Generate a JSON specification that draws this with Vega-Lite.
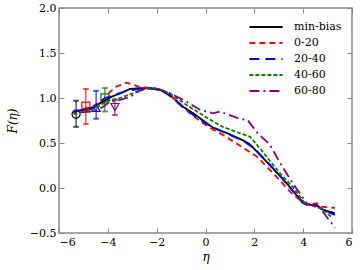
{
  "$schema": "https://vega.github.io/schema/vega-lite/v6.json",
  "width": 293,
  "height": 225,
  "autosize": "none",
  "padding": {"left": 59, "top": 8, "right": 8, "bottom": 37},
  "background": "white",
  "config": {
    "view": {"stroke": "#888888", "strokeWidth": 1.5},
    "font": "DejaVu Serif",
    "axis": {
      "domain": false,
      "grid": false,
      "tickColor": "#888888",
      "tickSize": -5,
      "tickWidth": 1,
      "labelFont": "DejaVu Serif",
      "labelFontSize": 11,
      "labelColor": "black",
      "titleFont": "DejaVu Serif",
      "titleFontSize": 12,
      "titleFontWeight": "normal",
      "titleFontStyle": "italic",
      "titleColor": "black"
    },
    "legend": {
      "labelFont": "DejaVu Serif",
      "labelFontSize": 11,
      "labelColor": "black"
    }
  },
  "datasets": {
    "curves": [
      {"eta": -5.43, "F": 0.84, "series": "min-bias"},
      {"eta": -5.0, "F": 0.87, "series": "min-bias"},
      {"eta": -4.6, "F": 0.9, "series": "min-bias"},
      {"eta": -4.2, "F": 0.96, "series": "min-bias"},
      {"eta": -3.8, "F": 1.02, "series": "min-bias"},
      {"eta": -3.5, "F": 1.05, "series": "min-bias"},
      {"eta": -3.1, "F": 1.1, "series": "min-bias"},
      {"eta": -2.7, "F": 1.11, "series": "min-bias"},
      {"eta": -2.4, "F": 1.11, "series": "min-bias"},
      {"eta": -1.86, "F": 1.09, "series": "min-bias"},
      {"eta": -1.4, "F": 1.02, "series": "min-bias"},
      {"eta": -0.9, "F": 0.9, "series": "min-bias"},
      {"eta": -0.5, "F": 0.83, "series": "min-bias"},
      {"eta": 0.0, "F": 0.73, "series": "min-bias"},
      {"eta": 0.31, "F": 0.67, "series": "min-bias"},
      {"eta": 0.88, "F": 0.61, "series": "min-bias"},
      {"eta": 1.53, "F": 0.53, "series": "min-bias"},
      {"eta": 1.8, "F": 0.49, "series": "min-bias"},
      {"eta": 2.23, "F": 0.37, "series": "min-bias"},
      {"eta": 2.64, "F": 0.25, "series": "min-bias"},
      {"eta": 3.0, "F": 0.15, "series": "min-bias"},
      {"eta": 3.46, "F": 0.01, "series": "min-bias"},
      {"eta": 3.7, "F": -0.07, "series": "min-bias"},
      {"eta": 4.0, "F": -0.17, "series": "min-bias"},
      {"eta": 4.3, "F": -0.19, "series": "min-bias"},
      {"eta": 4.56, "F": -0.19, "series": "min-bias"},
      {"eta": 4.8, "F": -0.24, "series": "min-bias"},
      {"eta": 5.3, "F": -0.28, "series": "min-bias"},

      {"eta": -5.4, "F": 0.84, "series": "0-20"},
      {"eta": -5.0, "F": 0.88, "series": "0-20"},
      {"eta": -4.6, "F": 0.91, "series": "0-20"},
      {"eta": -4.2, "F": 0.98, "series": "0-20"},
      {"eta": -3.9, "F": 1.07, "series": "0-20"},
      {"eta": -3.63, "F": 1.13, "series": "0-20"},
      {"eta": -3.22, "F": 1.17, "series": "0-20"},
      {"eta": -2.68, "F": 1.12, "series": "0-20"},
      {"eta": -2.2, "F": 1.11, "series": "0-20"},
      {"eta": -1.8, "F": 1.09, "series": "0-20"},
      {"eta": -1.4, "F": 1.02, "series": "0-20"},
      {"eta": -0.92, "F": 0.9, "series": "0-20"},
      {"eta": -0.5, "F": 0.8, "series": "0-20"},
      {"eta": -0.1, "F": 0.72, "series": "0-20"},
      {"eta": 0.3, "F": 0.65, "series": "0-20"},
      {"eta": 0.72, "F": 0.59, "series": "0-20"},
      {"eta": 1.53, "F": 0.45, "series": "0-20"},
      {"eta": 2.1, "F": 0.35, "series": "0-20"},
      {"eta": 2.64, "F": 0.2, "series": "0-20"},
      {"eta": 3.0, "F": 0.1, "series": "0-20"},
      {"eta": 3.46, "F": -0.04, "series": "0-20"},
      {"eta": 3.8, "F": -0.12, "series": "0-20"},
      {"eta": 4.15, "F": -0.19, "series": "0-20"},
      {"eta": 4.56, "F": -0.17, "series": "0-20"},
      {"eta": 4.8, "F": -0.21, "series": "0-20"},
      {"eta": 5.3, "F": -0.22, "series": "0-20"},

      {"eta": -5.4, "F": 0.85, "series": "20-40"},
      {"eta": -5.0, "F": 0.87, "series": "20-40"},
      {"eta": -4.6, "F": 0.88, "series": "20-40"},
      {"eta": -4.4, "F": 0.95, "series": "20-40"},
      {"eta": -4.1, "F": 1.0, "series": "20-40"},
      {"eta": -3.7, "F": 1.04, "series": "20-40"},
      {"eta": -3.2, "F": 1.08, "series": "20-40"},
      {"eta": -2.7, "F": 1.1, "series": "20-40"},
      {"eta": -2.2, "F": 1.11, "series": "20-40"},
      {"eta": -1.8, "F": 1.09, "series": "20-40"},
      {"eta": -1.4, "F": 1.01, "series": "20-40"},
      {"eta": -0.9, "F": 0.89, "series": "20-40"},
      {"eta": -0.5, "F": 0.81, "series": "20-40"},
      {"eta": 0.0, "F": 0.72, "series": "20-40"},
      {"eta": 0.5, "F": 0.65, "series": "20-40"},
      {"eta": 1.0, "F": 0.59, "series": "20-40"},
      {"eta": 1.5, "F": 0.53, "series": "20-40"},
      {"eta": 2.0, "F": 0.44, "series": "20-40"},
      {"eta": 2.5, "F": 0.3, "series": "20-40"},
      {"eta": 3.0, "F": 0.15, "series": "20-40"},
      {"eta": 3.46, "F": 0.0, "series": "20-40"},
      {"eta": 3.8, "F": -0.1, "series": "20-40"},
      {"eta": 4.1, "F": -0.18, "series": "20-40"},
      {"eta": 4.5, "F": -0.19, "series": "20-40"},
      {"eta": 4.8, "F": -0.24, "series": "20-40"},
      {"eta": 5.3, "F": -0.3, "series": "20-40"},

      {"eta": -5.4, "F": 0.82, "series": "40-60"},
      {"eta": -5.0, "F": 0.85, "series": "40-60"},
      {"eta": -4.6, "F": 0.87, "series": "40-60"},
      {"eta": -4.3, "F": 0.92, "series": "40-60"},
      {"eta": -4.0, "F": 0.97, "series": "40-60"},
      {"eta": -3.5, "F": 1.0, "series": "40-60"},
      {"eta": -3.0, "F": 1.05, "series": "40-60"},
      {"eta": -2.5, "F": 1.1, "series": "40-60"},
      {"eta": -2.0, "F": 1.11, "series": "40-60"},
      {"eta": -1.45, "F": 1.05, "series": "40-60"},
      {"eta": -0.76, "F": 0.92, "series": "40-60"},
      {"eta": 0.18, "F": 0.76, "series": "40-60"},
      {"eta": 0.7, "F": 0.68, "series": "40-60"},
      {"eta": 1.29, "F": 0.62, "series": "40-60"},
      {"eta": 1.82, "F": 0.57, "series": "40-60"},
      {"eta": 2.23, "F": 0.44, "series": "40-60"},
      {"eta": 2.64, "F": 0.3, "series": "40-60"},
      {"eta": 3.1, "F": 0.15, "series": "40-60"},
      {"eta": 3.58, "F": 0.01, "series": "40-60"},
      {"eta": 4.07, "F": -0.17, "series": "40-60"},
      {"eta": 4.4, "F": -0.2, "series": "40-60"},
      {"eta": 4.68, "F": -0.22, "series": "40-60"},
      {"eta": 5.2, "F": -0.33, "series": "40-60"},

      {"eta": -5.1, "F": 0.84, "series": "60-80"},
      {"eta": -4.6, "F": 0.85, "series": "60-80"},
      {"eta": -4.2, "F": 0.9, "series": "60-80"},
      {"eta": -3.9, "F": 0.96, "series": "60-80"},
      {"eta": -3.5, "F": 0.98, "series": "60-80"},
      {"eta": -3.1, "F": 1.01, "series": "60-80"},
      {"eta": -2.7, "F": 1.08, "series": "60-80"},
      {"eta": -2.4, "F": 1.11, "series": "60-80"},
      {"eta": -1.86, "F": 1.09, "series": "60-80"},
      {"eta": -1.58, "F": 1.07, "series": "60-80"},
      {"eta": -0.92, "F": 0.98, "series": "60-80"},
      {"eta": -0.23, "F": 0.87, "series": "60-80"},
      {"eta": 0.31, "F": 0.83, "series": "60-80"},
      {"eta": 0.59, "F": 0.85, "series": "60-80"},
      {"eta": 1.29, "F": 0.78, "series": "60-80"},
      {"eta": 1.74, "F": 0.75, "series": "60-80"},
      {"eta": 2.1, "F": 0.62, "series": "60-80"},
      {"eta": 2.64, "F": 0.48, "series": "60-80"},
      {"eta": 3.05, "F": 0.28, "series": "60-80"},
      {"eta": 3.58, "F": 0.05, "series": "60-80"},
      {"eta": 4.15, "F": -0.17, "series": "60-80"},
      {"eta": 4.68, "F": -0.22, "series": "60-80"},
      {"eta": 5.3, "F": -0.44, "series": "60-80"}
    ],
    "markers": [
      {"eta": -5.3, "F": 0.82, "lo": 0.68, "hi": 0.97, "mseries": "min-bias"},
      {"eta": -4.9, "F": 0.91, "lo": 0.71, "hi": 1.1, "mseries": "0-20"},
      {"eta": -4.48, "F": 0.89, "lo": 0.77, "hi": 1.08, "mseries": "20-40"},
      {"eta": -4.12, "F": 1.0, "lo": 0.85, "hi": 1.11, "mseries": "40-60"},
      {"eta": -3.71, "F": 0.9, "lo": 0.81, "hi": 0.98, "mseries": "60-80"}
    ]
  },
  "layer": [
    {
      "mark": {"type": "rule", "color": "#999999", "strokeDash": [4, 3], "strokeWidth": 1},
      "encoding": {"y": {"datum": 0, "type": "quantitative", "scale": {"domain": [-0.5, 2.0], "nice": false}, "axis": null}}
    },
    {
      "data": {"name": "markers"},
      "mark": {"type": "errorbar", "ticks": {"size": 5}, "thickness": 1},
      "encoding": {
        "x": {"field": "eta", "type": "quantitative", "scale": {"domain": [-6, 6], "nice": false}, "axis": null},
        "y": {"field": "lo", "type": "quantitative", "scale": {"domain": [-0.5, 2.0], "nice": false}, "axis": null},
        "y2": {"field": "hi"},
        "stroke": {"field": "mseries", "type": "nominal", "legend": null,
                   "scale": {"domain": ["min-bias", "0-20", "20-40", "40-60", "60-80"],
                             "range": ["#000000", "#ff0000", "#0000ff", "#008000", "#800080"]}}
      }
    },
    {
      "data": {"name": "markers"},
      "mark": {"type": "point", "filled": false, "size": 65, "strokeWidth": 1.2, "opacity": 1},
      "encoding": {
        "x": {"field": "eta", "type": "quantitative", "scale": {"domain": [-6, 6], "nice": false}, "axis": null},
        "y": {"field": "F", "type": "quantitative", "scale": {"domain": [-0.5, 2.0], "nice": false}, "axis": null},
        "stroke": {"field": "mseries", "type": "nominal", "legend": null,
                   "scale": {"domain": ["min-bias", "0-20", "20-40", "40-60", "60-80"],
                             "range": ["#000000", "#ff0000", "#0000ff", "#008000", "#800080"]}},
        "shape": {"field": "mseries", "type": "nominal", "legend": null,
                  "scale": {"domain": ["min-bias", "0-20", "20-40", "40-60", "60-80"],
                            "range": ["circle", "square", "triangle-up", "square", "triangle-down"]}}
      }
    },
    {
      "data": {"name": "curves"},
      "mark": {"type": "line", "strokeWidth": 1.8},
      "encoding": {
        "x": {"field": "eta", "type": "quantitative", "scale": {"domain": [-6, 6], "nice": false},
              "axis": {"values": [-6, -4, -2, 0, 2, 4, 6], "title": "η", "labelPadding": 8, "titlePadding": 4}},
        "y": {"field": "F", "type": "quantitative", "scale": {"domain": [-0.5, 2.0], "nice": false},
              "axis": {"values": [-0.5, 0, 0.5, 1, 1.5, 2], "format": ".1f", "title": "F(η)", "labelPadding": 8, "titlePadding": 10}},
        "color": {
          "field": "series", "type": "nominal",
          "scale": {"domain": ["min-bias", "0-20", "20-40", "40-60", "60-80"],
                    "range": ["#000000", "#ff0000", "#0000ff", "#008000", "#800080"]},
          "legend": {"title": null, "orient": "none", "legendX": 189, "legendY": 11,
                     "symbolType": "stroke", "symbolSize": 1100, "symbolStrokeWidth": 2,
                     "labelOffset": 10, "rowPadding": 0, "clipHeight": 16, "padding": 0}
        },
        "strokeDash": {
          "field": "series", "type": "nominal",
          "scale": {"domain": ["min-bias", "0-20", "20-40", "40-60", "60-80"],
                    "range": [[1, 0], [6, 4], [10, 6], [4, 2], [10, 4, 2, 4]]},
          "legend": {"title": null, "orient": "none", "legendX": 189, "legendY": 11,
                     "symbolType": "stroke", "symbolSize": 1100, "symbolStrokeWidth": 2,
                     "labelOffset": 10, "rowPadding": 0, "clipHeight": 16, "padding": 0}
        },
        "order": {"field": "eta", "type": "quantitative"}
      }
    },
    {
      "data": {"name": "markers"},
      "mark": {"type": "point", "opacity": 0},
      "encoding": {
        "x": {"field": "eta", "type": "quantitative", "scale": {"domain": [-6, 6], "nice": false},
              "axis": {"orient": "top", "values": [-6, -4, -2, 0, 2, 4, 6], "labels": false, "title": null}},
        "y": {"field": "F", "type": "quantitative", "scale": {"domain": [-0.5, 2.0], "nice": false},
              "axis": {"orient": "right", "values": [-0.5, 0, 0.5, 1, 1.5, 2], "labels": false, "title": null}}
      }
    }
  ],
  "resolve": {"axis": {"x": "independent", "y": "independent"}, "scale": {"stroke": "independent", "shape": "independent"}}
}
